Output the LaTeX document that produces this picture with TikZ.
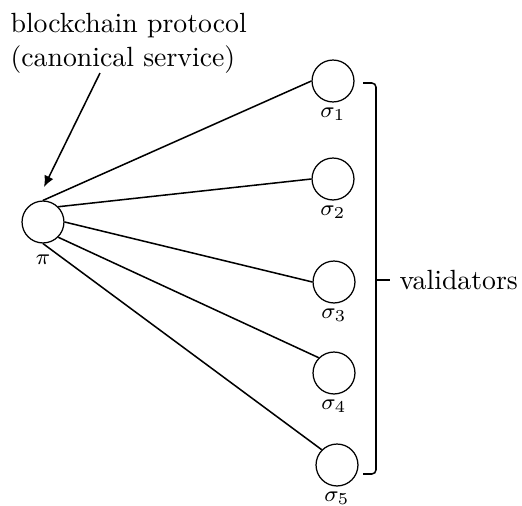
\documentclass[tikz,border=0pt]{standalone}
\usetikzlibrary{arrows.meta}
\begin{document}
\begin{tikzpicture}[x=0.36pt,y=-0.36pt,
  proc/.style={circle,draw,line width=0.45pt,minimum size=15.1pt,inner sep=0pt},
  conn/.style={line width=0.55pt},
  lab/.style={font=\footnotesize,label distance=-1.5pt}]
\useasboundingbox (0,0) rectangle (522,506);
\node[align=left,anchor=north west,inner sep=0pt] (title) at (10,13) {blockchain protocol\\(canonical service)};
\node[proc,label={[lab,label distance=0.5pt]below:$\pi$}] (pi) at (43,222) {};
\node[proc,label={[lab]below:$\sigma_1$}] (s1) at (333,81) {};
\node[proc,label={[lab]below:$\sigma_2$}] (s2) at (333,179) {};
\node[proc,label={[lab]below:$\sigma_3$}] (s3) at (334,282) {};
\node[proc,label={[lab]below:$\sigma_4$}] (s4) at (334,373) {};
\node[proc,label={[lab]below:$\sigma_5$}] (s5) at (337,465) {};
\draw[conn] (pi.90) -- (s1.180);
\draw[conn] (pi.45) -- (s2.180);
\draw[conn] (pi.0) -- (s3.180);
\draw[conn] (pi.-45) -- (s4.135);
\draw[conn] (pi.-90) -- (s5.135);
\coordinate (arrowstart) at (100,73);
\coordinate (arrowend) at (44,187);
\draw[conn,-{Latex[length=4pt,width=3.5pt]}] (arrowstart) -- (arrowend);
\coordinate (bt) at (363,83);
\coordinate (bb) at (363,474);
\coordinate (bm) at (376,280);
\draw[conn,rounded corners=1.5pt] (bt) -- (376,83) -- (376,474) -- (bb);
\node[anchor=west,inner sep=0pt] (val) at (399,280) {validators};
\draw[conn] (bm) -- (390,280);
\end{tikzpicture}
\end{document}
